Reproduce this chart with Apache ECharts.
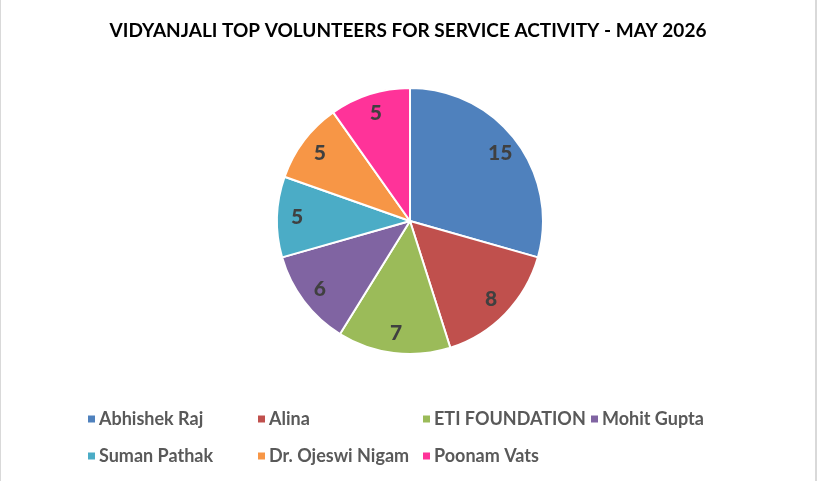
<!DOCTYPE html>
<html>
<head>
<meta charset="utf-8">
<script src="https://cdn.jsdelivr.net/npm/echarts@6/dist/echarts.min.js"></script>
<style>
  html, body { margin: 0; padding: 0; background: #fff; }
  #chart { width: 817px; height: 481px; box-sizing: border-box; border-left: 1px solid #d9d9d9; border-right: 2px solid #d9d9d9; }
</style>
</head>
<body>
<div id="chart"></div>
<script>
// volunteers and their activity counts
var names = ['Abhishek Raj', 'Alina', 'ETI FOUNDATION', 'Mohit Gupta', 'Suman Pathak', 'Dr. Ojeswi Nigam', 'Poonam Vats'];
var counts = [15, 8, 7, 6, 5, 5, 5];
var colors = ['#4f81bd', '#c0504d', '#9bbb59', '#8064a2', '#4bacc6', '#f79646', '#ff3399'];

var chart = echarts.init(document.getElementById('chart'));

var pieData = names.map(function (n, i) {
  return { name: n, value: counts[i], itemStyle: { color: colors[i] } };
});

// legend laid out as a grid of 4 columns, like the spreadsheet one
var legendCols = [80, 250, 415, 583];
var legendRows = [405, 442];
var legends = names.map(function (n, i) {
  return {
    data: [n],
    left: legendCols[i % 4],
    top: legendRows[Math.floor(i / 4)],
    icon: 'rect',
    itemWidth: 9,
    itemHeight: 9,
    itemGap: 0,
    selectedMode: false,
    textStyle: { color: '#595959', fontFamily: 'Lato', fontWeight: 'bold', fontSize: 18, padding: [0, 0, 0, -2] }
  };
});

var option = {
  animation: false,
  backgroundColor: '#fff',
  title: {
    text: 'VIDYANJALI TOP VOLUNTEERS FOR SERVICE ACTIVITY - MAY 2026',
    left: 'center',
    top: 16,
    textStyle: { color: '#000', fontFamily: 'Lato', fontWeight: 'bold', fontSize: 19 }
  },
  legend: legends,
  series: [
    {
      type: 'pie',
      center: [409, 221],
      radius: [0, 133],
      startAngle: 90,
      data: pieData,
      label: { show: false },
      labelLine: { show: false },
      itemStyle: { borderColor: '#fff', borderWidth: 2 },
      emphasis: { disabled: true }
    },
    {
      // transparent ring only used to place the value labels further out
      type: 'pie',
      center: [409, 221],
      radius: [87, 133],
      startAngle: 90,
      silent: true,
      data: names.map(function (n, i) { return { name: n, value: counts[i] }; }),
      itemStyle: { color: 'rgba(0,0,0,0)' },
      label: {
        show: true,
        position: 'inside',
        formatter: '{c}',
        color: '#404040',
        fontFamily: 'Lato',
        fontWeight: 900,
        fontSize: 21
      },
      labelLine: { show: false },
      emphasis: { disabled: true }
    }
  ]
};
chart.setOption(option);
</script>
</body>
</html>
